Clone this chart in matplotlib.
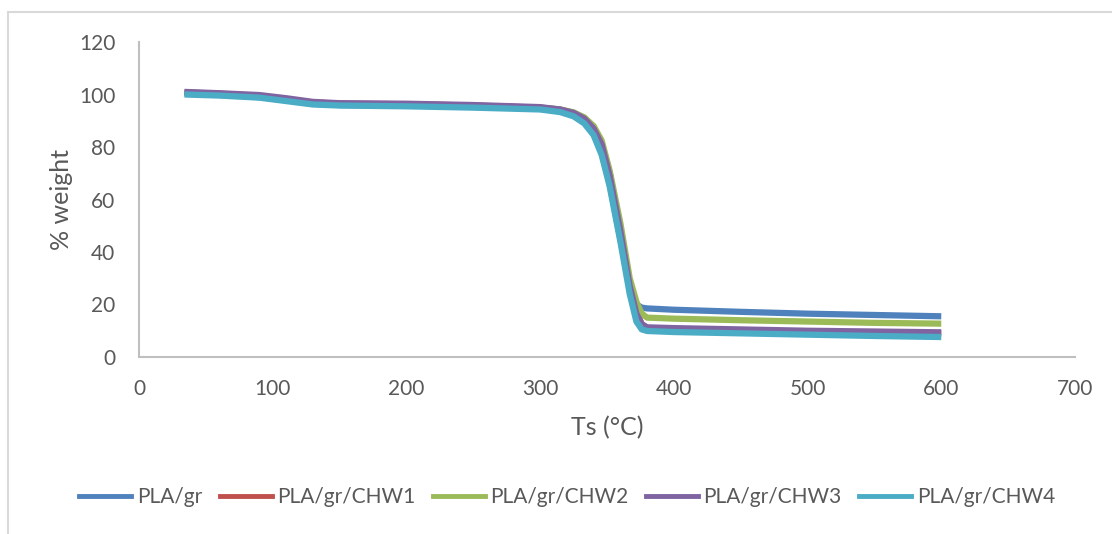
import matplotlib.pyplot as plt
from matplotlib.lines import Line2D

plt.rcParams['font.family'] = ['Lato', 'DejaVu Sans']

# temperature points (°C)
temps = [34, 60, 90, 110, 130, 150, 200, 250, 300, 315, 325, 333, 340, 346, 352,
         360, 367, 372, 376, 380, 400, 450, 500, 550, 600]

pla_gr = [100.5, 100.0, 99.0, 97.8, 96.5, 96.0, 95.8, 95.3, 94.6, 93.6, 92.0, 89.5,
          85.0, 78.0, 66.0, 45.0, 26.0, 20.0, 18.8, 18.5, 18.0, 17.2, 16.5, 16.0, 15.5]
pla_chw1 = [100.8, 100.3, 99.5, 98.2, 97.0, 96.5, 96.3, 95.8, 95.0, 94.2, 93.0, 91.0,
            87.5, 81.5, 70.0, 49.0, 28.0, 17.0, 12.5, 11.0, 10.6, 10.1, 9.6, 9.2, 8.9]
pla_chw2 = [100.5, 100.2, 99.3, 98.0, 96.8, 96.3, 96.0, 95.6, 95.0, 94.3, 93.2, 91.3,
            88.0, 82.5, 71.0, 51.0, 30.0, 21.0, 16.5, 15.0, 14.6, 14.0, 13.5, 13.0, 12.7]
pla_chw3 = [101.0, 100.5, 99.8, 98.6, 97.2, 96.7, 96.5, 96.0, 95.2, 94.3, 93.0, 90.8,
            87.0, 81.0, 69.0, 48.0, 27.0, 16.5, 12.5, 11.3, 11.0, 10.5, 10.0, 9.7, 9.4]
pla_chw4 = [100.0, 99.6, 98.8, 97.5, 96.2, 95.8, 95.5, 95.0, 94.3, 93.3, 91.7, 89.0,
            84.5, 77.0, 65.0, 44.0, 24.0, 13.5, 10.5, 9.9, 9.5, 9.0, 8.5, 8.0, 7.6]

labels = ['PLA/gr', 'PLA/gr/CHW1', 'PLA/gr/CHW2', 'PLA/gr/CHW3', 'PLA/gr/CHW4']
series = [pla_gr, pla_chw1, pla_chw2, pla_chw3, pla_chw4]
colors = ['#4F81BD', '#C0504D', '#9BBB59', '#8064A2', '#4BACC6']

x_ticks = [0, 100, 200, 300, 400, 500, 600, 700]
y_ticks = [0, 20, 40, 60, 80, 100, 120]

text_color = '#595959'
axis_color = '#BFBFBF'

fig = plt.figure(figsize=(11.12, 5.34), dpi=100)
ax = fig.add_axes([0.125, 0.3315, 0.8417, 0.5898])

for vals, lab, col in zip(series, labels, colors):
    ax.plot(temps, vals, color=col, lw=4.5, label=lab, solid_capstyle='butt')

ax.set_xlim(0, 700)
ax.set_ylim(0, 120)
ax.set_xticks(x_ticks)
ax.set_yticks(y_ticks)
ax.tick_params(length=0, labelsize=15, colors=text_color)
ax.tick_params(axis='x', pad=16)
ax.tick_params(axis='y', pad=17)

for side in ['top', 'right']:
    ax.spines[side].set_visible(False)
for side in ['left', 'bottom']:
    ax.spines[side].set_color(axis_color)
    ax.spines[side].set_linewidth(1.5)

ax.set_xlabel('Ts (°C)', fontsize=18, color=text_color, labelpad=12)
ax.set_ylabel('% weight', fontsize=18, color=text_color, labelpad=4)

handles = [Line2D([0], [0], color=c, lw=3.5) for c in colors]
fig.legend(handles, labels, loc='center', bbox_to_anchor=(0.510, 0.069), ncol=5,
           frameon=False, fontsize=15, labelcolor=text_color,
           handlelength=2.5, handletextpad=0.25, columnspacing=0.85)

# outer chart border (top and left edges visible)
fig.add_artist(Line2D([8 / 1112, 1.0], [1 - 12 / 534, 1 - 12 / 534], color='#D9D9D9', lw=1.5))
fig.add_artist(Line2D([8 / 1112, 8 / 1112], [0.0, 1 - 12 / 534], color='#D9D9D9', lw=1.5))

fig.savefig('out.png', dpi=100)
